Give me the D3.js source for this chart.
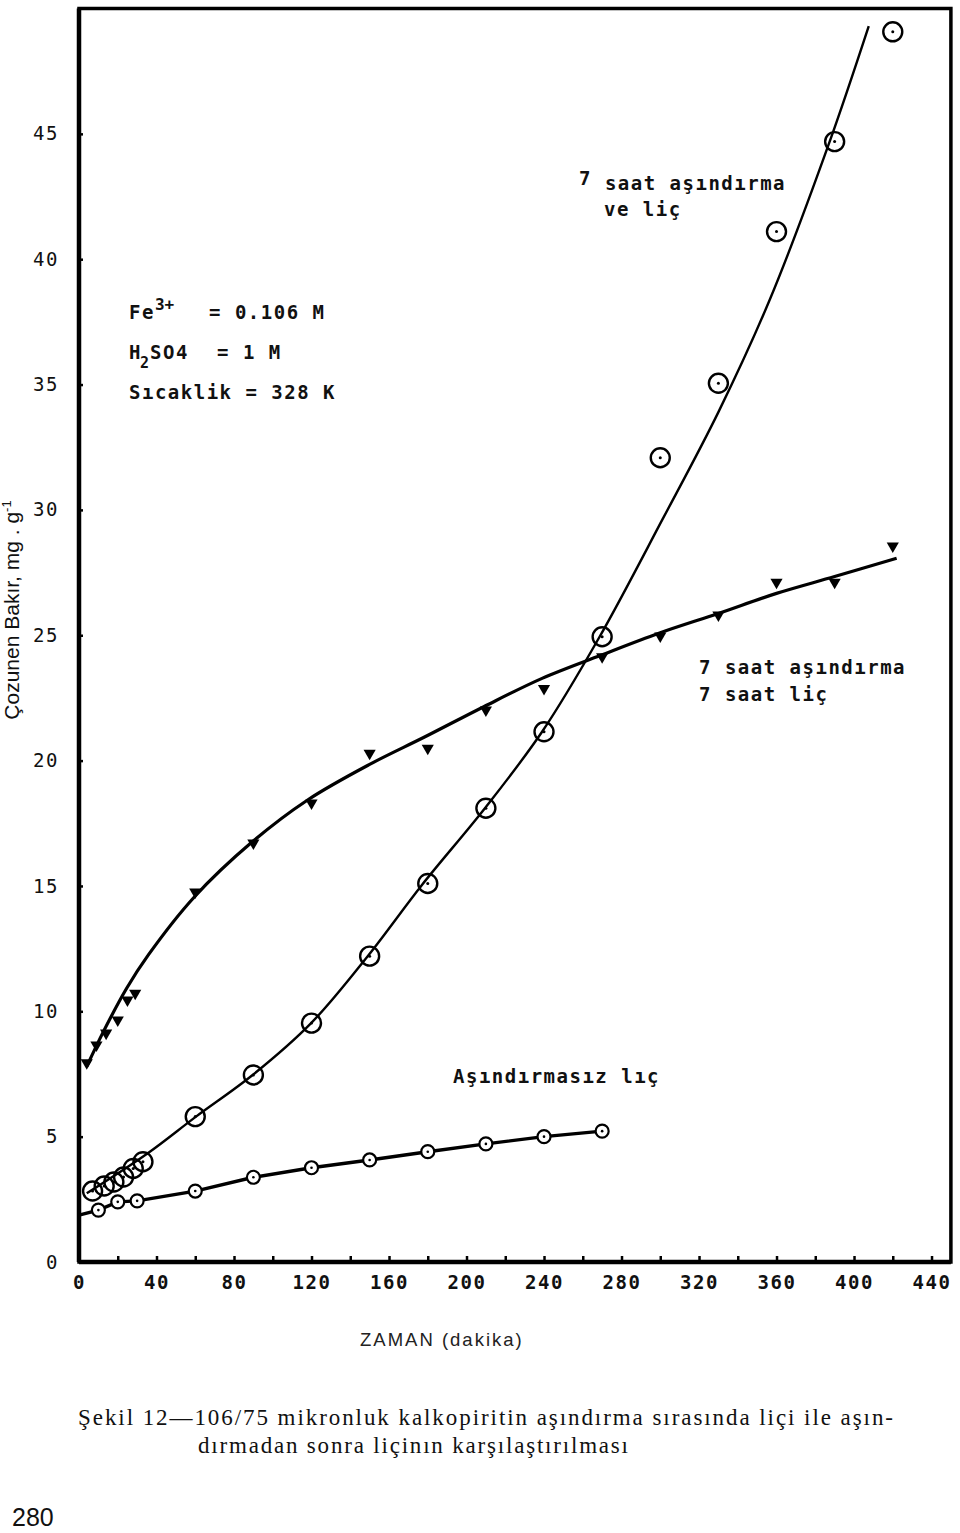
<!DOCTYPE html>
<html><head><meta charset="utf-8">
<script src="https://cdn.jsdelivr.net/npm/d3@7"></script>
<style>
body{margin:0;background:#fff}
svg{display:block}
.mono{font-family:"DejaVu Sans Mono",monospace;font-size:19px;letter-spacing:1.5px;fill:#111}
.ann{font-weight:bold}
</style>
</head><body>
<svg id="chart" width="960" height="1533"></svg>
<script>
// ---------- data ----------
const xTickLabels = [0,40,80,120,160,200,240,280,320,360,400,440];
const xMinorTicks = [20,40,60,80,100,120,140,160,180,200,220,240,260,280,300,320,340,360,380,400,420,440];
const yTickLabels = [0,5,10,15,20,25,30,35,40,45];

// Aşındırmasız liç (small circles)
const s1Time = [10,20,30,60,90,120,150,180,210,240,270];
const s1Val  = [2.07,2.40,2.44,2.83,3.38,3.76,4.07,4.40,4.71,5.00,5.22];
const s1LineTime = [0,10,20,30,60,90,120,150,180,210,240,270];
const s1LineVal  = [1.87,2.07,2.40,2.44,2.83,3.38,3.76,4.07,4.40,4.71,5.00,5.22];

// 7 saat aşındırma ve liç (large circles)
const s2Time = [7,13,18,23,28,33,60,90,120,150,180,210,240,270,300,330,360,390,420];
const s2Val  = [2.83,3.03,3.19,3.39,3.73,4.00,5.80,7.46,9.53,12.2,15.1,18.1,21.15,24.94,32.08,35.05,41.1,44.69,49.07];
const s2CurveTime = [4,35.5,60.4,89.6,119.8,149,177,209.5,239,268.4,301,330,356.6,387,407.6];
const s2CurveVal  = [2.74,4.34,5.80,7.46,9.53,12.2,15.04,18.1,21.15,24.9,29.6,33.9,38.4,44.6,49.3];

// 7 saat aşındırma 7 saat liç (filled triangles)
const s3Time = [4,9,14,20,25,29,60,90,120,150,180,210,240,270,300,330,360,390,420];
const s3Val  = [7.95,8.66,9.13,9.65,10.45,10.72,14.76,16.71,18.31,20.29,20.49,22.02,22.88,24.14,24.97,25.81,27.11,27.11,28.56];
const s3CurveTime = [4,12.6,24.6,35.8,59.4,89.6,118,150,178.6,208.9,239,269.3,299.3,330,360,390,422];
const s3CurveVal  = [7.8,9.19,10.92,12.25,14.55,16.77,18.43,19.85,20.95,22.15,23.28,24.2,25.08,25.87,26.67,27.34,28.07];

// ---------- scales ----------
const svg = d3.select("#chart");
const x = d3.scaleLinear().domain([0,450]).range([79,950.9]);
const y = d3.scaleLinear().domain([0,50]).range([1262,8.5]);
const zip = (a,b)=>a.map((d,i)=>[d,b[i]]);

// frame
svg.append("path")
  .attr("d", d3.line()([[x(0),y(0)],[x(450),y(0)],[x(450),y(50)],[x(0),y(50)]]) + "Z")
  .attr("fill","none").attr("stroke","#000").attr("stroke-width",3.5);
svg.append("line").attr("x1",x(0)).attr("x2",x(0)).attr("y1",y(50)).attr("y2",y(0))
  .attr("stroke","#000").attr("stroke-width",4.5);
svg.append("line").attr("x1",x(0)).attr("x2",x(450)).attr("y1",y(0)).attr("y2",y(0))
  .attr("stroke","#000").attr("stroke-width",4.5);

// x ticks (inward)
const gx = svg.append("g").attr("transform",`translate(0,${y(0)})`)
  .call(d3.axisBottom(x).tickValues(xMinorTicks).tickSize(-6).tickFormat(""));
gx.select(".domain").remove();
gx.selectAll("line").attr("stroke","#000").attr("stroke-width",2.5);

const gxl = svg.append("g").attr("transform",`translate(0,${y(0)})`)
  .call(d3.axisBottom(x).tickValues(xTickLabels).tickSize(0).tickPadding(14).tickFormat(d3.format("d")));
gxl.select(".domain").remove();
gxl.selectAll("text").attr("class","mono ann").attr("font-family",null).attr("font-size",null);

// y ticks (inward)
const gy = svg.append("g").attr("transform",`translate(${x(0)},0)`)
  .call(d3.axisLeft(y).tickValues(yTickLabels.slice(1)).tickSize(-4).tickFormat(""));
gy.select(".domain").remove();
gy.selectAll("line").attr("stroke","#000").attr("stroke-width",2.5);

const gyl = svg.append("g").attr("transform",`translate(${x(0)},0)`)
  .call(d3.axisLeft(y).tickValues(yTickLabels).tickSize(0).tickPadding(20).tickFormat(d3.format("d")));
gyl.select(".domain").remove();
gyl.selectAll("text").attr("class","mono").attr("font-family",null).attr("font-size",null);

// ---------- curves ----------
const line = d3.line().x(d=>x(d[0])).y(d=>y(d[1]));
svg.append("path").datum(zip(s3CurveTime,s3CurveVal))
  .attr("d", line.curve(d3.curveCatmullRom.alpha(0.5)))
  .attr("fill","none").attr("stroke","#000").attr("stroke-width",3.2);
svg.append("path").datum(zip(s2CurveTime,s2CurveVal))
  .attr("d", line.curve(d3.curveCatmullRom.alpha(0.5)))
  .attr("fill","none").attr("stroke","#000").attr("stroke-width",2.4);
svg.append("path").datum(zip(s1LineTime,s1LineVal))
  .attr("d", line.curve(d3.curveLinear))
  .attr("fill","none").attr("stroke","#000").attr("stroke-width",3.4);

// ---------- markers ----------
const s1 = svg.append("g").selectAll("g").data(zip(s1Time,s1Val)).join("g")
  .attr("transform",d=>`translate(${x(d[0])},${y(d[1])})`);
s1.append("circle").attr("r",6.5).attr("fill","#fff").attr("stroke","#000").attr("stroke-width",2.2);
s1.append("circle").attr("r",1.3).attr("fill","#000");

const s2 = svg.append("g").selectAll("g").data(zip(s2Time,s2Val)).join("g")
  .attr("transform",d=>`translate(${x(d[0])},${y(d[1])})`);
s2.append("circle").attr("r",9.5).attr("fill","none").attr("stroke","#000").attr("stroke-width",2.4);
s2.append("circle").attr("r",1.5).attr("fill","#000");

const tri = d3.symbol().type(d3.symbolTriangle).size(64);
svg.append("g").selectAll("path").data(zip(s3Time,s3Val)).join("path")
  .attr("d",tri)
  .attr("transform",d=>`translate(${x(d[0])},${y(d[1])}) rotate(180)`)
  .attr("fill","#000");

// ---------- annotations ----------
const ann = svg.append("g");
function txt(xp,yp,parts){
  const t = ann.append("text").attr("x",xp).attr("y",yp).attr("class","mono ann");
  parts.forEach(p=>{
    const s = t.append("tspan").text(p.t);
    if(p.x!==undefined) s.attr("x",p.x);
    if(p.dy) s.attr("dy",p.dy);
    if(p.fs) s.attr("font-size",p.fs).attr("letter-spacing","0px");
  });
  return t;
}
txt(579,190,[{t:"7",dy:-5},{t:" saat aşındırma",dy:5}]);
txt(604,216,[{t:"ve liç"}]);
txt(129,319,[{t:"Fe"},{t:"3+",dy:-9,fs:"16px"},{t:"= 0.106 M",x:209,dy:9}]);
txt(129,359,[{t:"H"},{t:"2",dy:9,fs:"15px",x:140},{t:"SO4",dy:-9,x:150},{t:"= 1 M",x:217}]);
txt(129,399,[{t:"Sıcaklik = 328 K"}]);
txt(699,674,[{t:"7 saat aşındırma"}]);
txt(699,701,[{t:"7 saat liç"}]);
txt(453,1083,[{t:"Aşındırmasız lıç"}]);

// y axis title
const yt = svg.append("text")
  .attr("transform","translate(19,610) rotate(-90)")
  .attr("text-anchor","middle")
  .attr("font-family","Liberation Sans, Arial, sans-serif")
  .attr("font-size","21px").attr("fill","#111");
yt.append("tspan").text("Çozunen Bakır, mg . g");
yt.append("tspan").text("-1").attr("dy",-8).attr("font-size","13px");

// x axis title
svg.append("text").attr("x",360).attr("y",1346)
  .attr("font-family","Liberation Sans, Arial, sans-serif")
  .attr("font-size","18.5px").attr("letter-spacing","2px").attr("fill","#222")
  .text("ZAMAN (dakika)");

// caption
const cap = svg.append("g").attr("font-family","Liberation Serif, Times New Roman, serif")
  .attr("font-size","23px").attr("fill","#111");
cap.append("text").attr("x",78).attr("y",1425).attr("textLength",815).attr("lengthAdjust","spacing")
  .text("Şekil 12—106/75 mikronluk kalkopiritin aşındırma sırasında liçi ile aşın-");
cap.append("text").attr("x",198).attr("y",1453).attr("textLength",430).attr("lengthAdjust","spacing")
  .text("dırmadan sonra liçinın karşılaştırılması");

// page number
svg.append("text").attr("x",12).attr("y",1526)
  .attr("font-family","Liberation Sans, Arial, sans-serif")
  .attr("font-size","25px").attr("fill","#111").text("280");
</script>
</body></html>
